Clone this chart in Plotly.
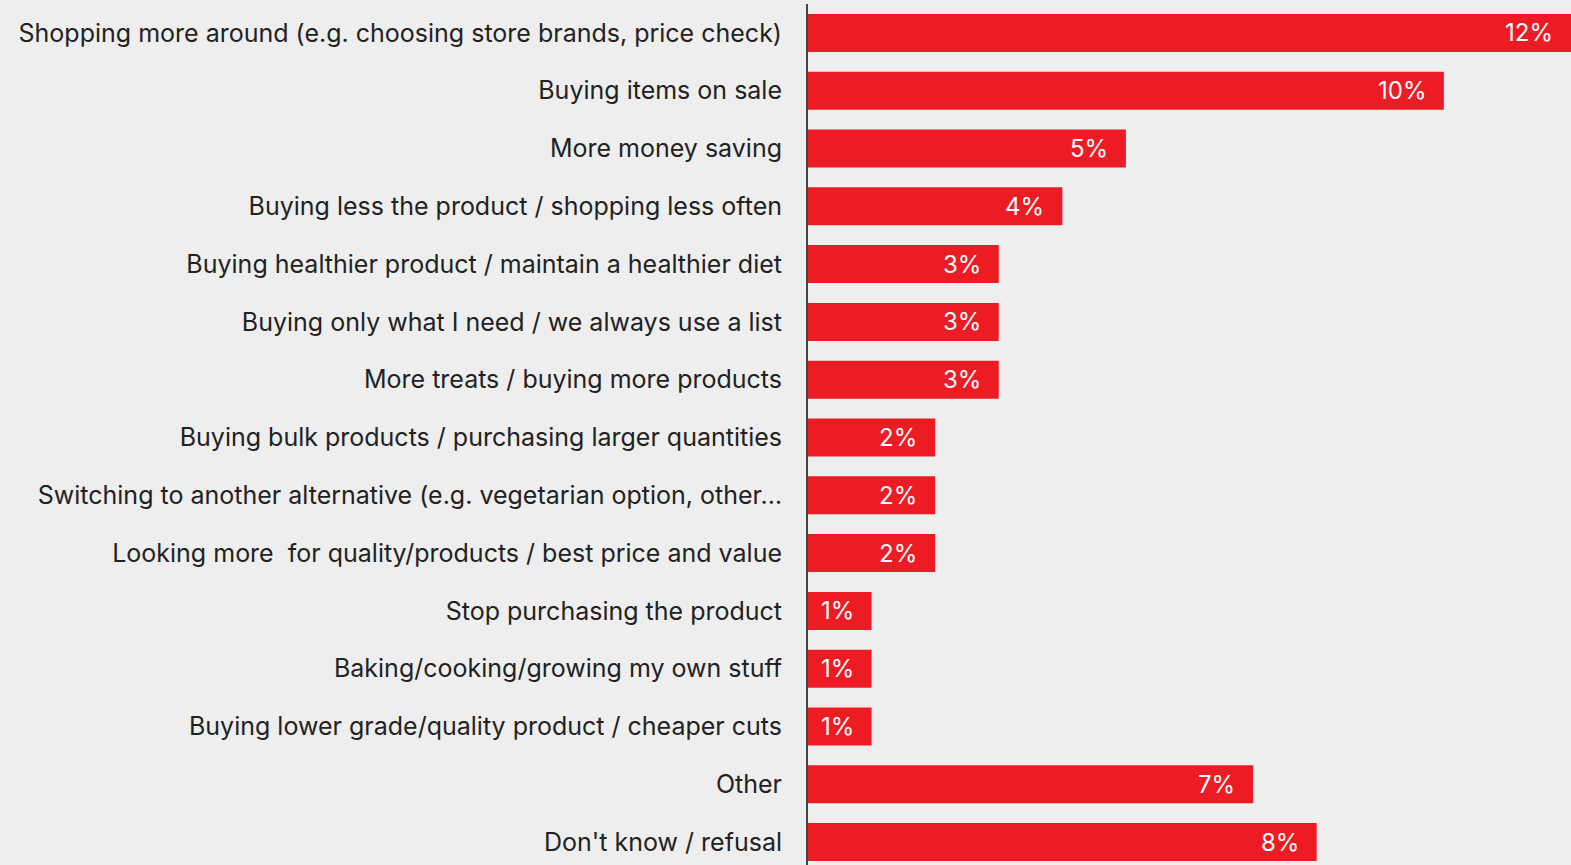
import plotly.graph_objects as go

# Survey responses: changes in shopping behaviour (share of respondents, %)
categories = [
    "Shopping more around (e.g. choosing store brands, price check)",
    "Buying items on sale",
    "More money saving",
    "Buying less the product / shopping less often",
    "Buying healthier product / maintain a healthier diet",
    "Buying only what I need / we always use a list",
    "More treats / buying more products",
    "Buying bulk products / purchasing larger quantities",
    "Switching to another alternative (e.g. vegetarian option, other…",
    "Looking more\u00a0 for quality/products / best price and value",
    "Stop purchasing the product",
    "Baking/cooking/growing my own stuff",
    "Buying lower grade/quality product / cheaper cuts",
    "Other",
    "Don't know / refusal",
]
values = [12, 10, 5, 4, 3, 3, 3, 2, 2, 2, 1, 1, 1, 7, 8]

BAR_RED = "#ED1C24"
BG = "#EEEEEE"
FONT = "Inter"

fig = go.Figure(
    go.Bar(
        x=values,
        y=categories,
        orientation="h",
        marker=dict(color=BAR_RED, line=dict(width=0)),
        hoverinfo="skip",
    )
)

# value labels inside the bar end
for cat, v in zip(categories, values):
    fig.add_annotation(
        x=v, y=cat, xref="x", yref="y",
        text=f"{v}%", showarrow=False,
        xanchor="right", yanchor="middle", xshift=-16,
        font=dict(family=FONT, size=24, color="white"),
    )

fig.update_layout(
    width=1571, height=865,
    margin=dict(l=808, r=0, t=4, b=0),
    paper_bgcolor=BG, plot_bgcolor=BG,
    bargap=0.343,
    showlegend=False,
    font=dict(family=FONT, size=25, color="#222222"),
)
fig.update_xaxes(range=[0, 12], visible=False, fixedrange=True)
fig.update_yaxes(
    range=[14.396, -0.5],
    showgrid=False, zeroline=False,
    showline=True, linecolor="#444444", linewidth=2,
    ticks="", ticklabelstandoff=19,
    tickfont=dict(family=FONT, size=25, color="#222222"),
    fixedrange=True,
)

fig.write_html("out.html")
